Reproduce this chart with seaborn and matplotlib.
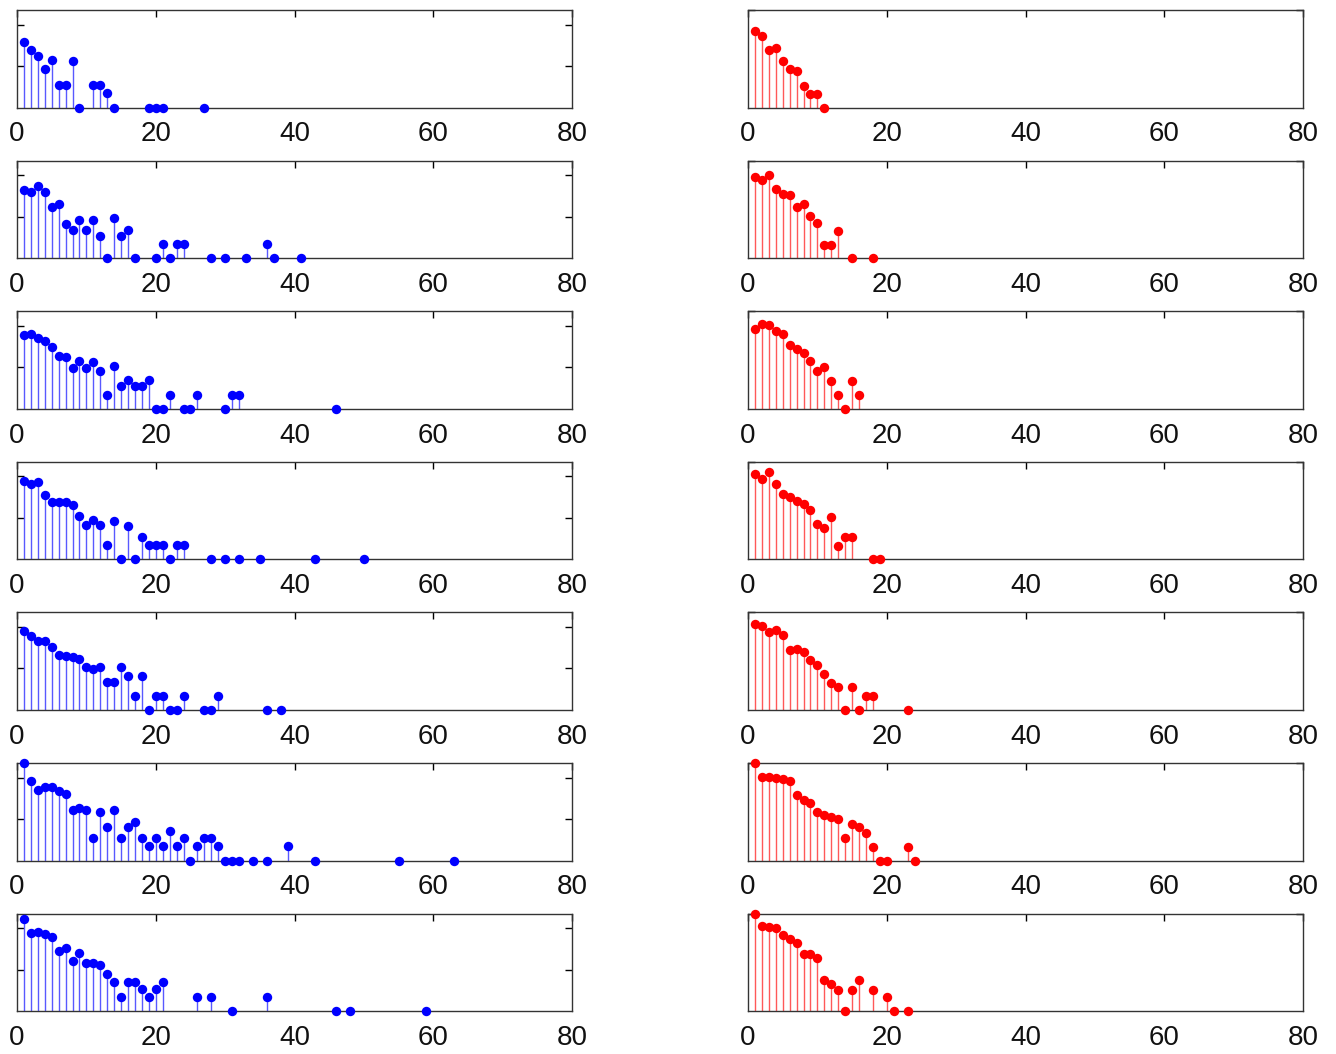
import matplotlib
matplotlib.use("Agg")
import matplotlib.pyplot as plt
import seaborn as sns
import pandas as pd

# ---------------- data (log counts) ----------------
# left column (blue)
blue1_x = [1, 2, 3, 4, 5, 6, 7, 8, 9, 11, 12, 13, 14, 19, 20, 21, 27]
blue1_y = [3.16, 2.76, 2.48, 1.84, 2.28, 1.08, 1.08, 2.24, 0, 1.08, 1.08, 0.68, 0, 0, 0, 0, 0]

blue2_x = [1, 2, 3, 4, 5, 6, 7, 8, 9, 10, 11, 12, 13, 14, 15, 16, 17, 20, 21, 22, 23, 24, 28, 30, 33, 36, 37, 41]
blue2_y = [3.28, 3.20, 3.48, 3.20, 2.44, 2.60, 1.64, 1.36, 1.84, 1.36, 1.84, 1.08, 0, 1.92, 1.08, 1.36, 0,
           0, 0.68, 0, 0.68, 0.68, 0, 0, 0, 0.68, 0, 0]

blue3_x = [1, 2, 3, 4, 5, 6, 7, 8, 9, 10, 11, 12, 13, 14, 15, 16, 17, 18, 19, 20, 21, 22, 24, 25, 26, 30, 31, 32, 46]
blue3_y = [3.56, 3.60, 3.40, 3.28, 2.96, 2.56, 2.48, 1.96, 2.32, 1.96, 2.24, 1.84, 0.68, 2.08, 1.08, 1.40, 1.08,
           1.08, 1.40, 0, 0, 0.68, 0, 0, 0.68, 0, 0.68, 0.68, 0]

blue4_x = [1, 2, 3, 4, 5, 6, 7, 8, 9, 10, 11, 12, 13, 14, 15, 16, 17, 18, 19, 20, 21, 22, 23, 24, 28, 30, 32, 35, 43, 50]
blue4_y = [3.78, 3.64, 3.72, 3.08, 2.76, 2.76, 2.76, 2.60, 2.08, 1.64, 1.88, 1.64, 0.68, 1.84, 0, 1.62, 0,
           1.08, 0.68, 0.68, 0.68, 0, 0.68, 0.68, 0, 0, 0, 0, 0, 0]

blue5_x = [1, 2, 3, 4, 5, 6, 7, 8, 9, 10, 11, 12, 13, 14, 15, 16, 17, 18, 19, 20, 21, 22, 23, 24, 27, 28, 29, 36, 38]
blue5_y = [3.80, 3.54, 3.30, 3.30, 3.02, 2.66, 2.62, 2.56, 2.46, 2.06, 1.96, 2.08, 1.36, 1.36, 2.06, 1.62, 0.68,
           1.62, 0, 0.68, 0.68, 0, 0, 0.68, 0, 0, 0.68, 0, 0]

blue6_x = [1, 2, 3, 4, 5, 6, 7, 8, 9, 10, 11, 12, 13, 14, 15, 16, 17, 18, 19, 20, 21, 22, 23, 24, 25, 26, 27, 28,
           29, 30, 31, 32, 34, 36, 39, 43, 55, 63]
blue6_y = [4.70, 3.82, 3.38, 3.52, 3.56, 3.36, 3.20, 2.44, 2.52, 2.44, 1.10, 2.32, 1.62, 2.44, 1.10, 1.62, 1.88,
           1.10, 0.70, 1.10, 0.70, 1.42, 0.70, 1.10, 0, 0.70, 1.10, 1.10, 0.70, 0, 0, 0, 0, 0, 0.70, 0, 0, 0]

blue7_x = [1, 2, 3, 4, 5, 6, 7, 8, 9, 10, 11, 12, 13, 14, 15, 16, 17, 18, 19, 20, 21, 26, 28, 31, 36, 46, 48, 59]
blue7_y = [4.42, 3.78, 3.82, 3.74, 3.58, 2.90, 3.02, 2.40, 2.80, 2.34, 2.34, 2.20, 1.80, 1.40, 0.68, 1.42, 1.42,
           1.08, 0.68, 1.08, 1.42, 0.68, 0.68, 0, 0.68, 0, 0, 0]

# right column (red)
red1_x = [1, 2, 3, 4, 5, 6, 7, 8, 9, 10, 11]
red1_y = [3.90, 3.65, 2.95, 3.05, 2.40, 2.00, 1.85, 1.10, 0.70, 0.70, 0]

red2_x = [1, 2, 3, 4, 5, 6, 7, 8, 9, 10, 11, 12, 13, 15, 18]
red2_y = [4.17, 4.00, 4.25, 3.55, 3.30, 3.25, 2.60, 2.75, 2.15, 1.80, 0.65, 0.65, 1.40, 0, 0]

red3_x = [1, 2, 3, 4, 5, 6, 7, 8, 9, 10, 11, 12, 13, 14, 15, 16]
red3_y = [4.10, 4.35, 4.28, 4.00, 3.85, 3.28, 3.05, 2.85, 2.45, 1.95, 2.15, 1.40, 0.70, 0, 1.40, 0.70]

red4_x = [1, 2, 3, 4, 5, 6, 7, 8, 9, 10, 11, 12, 13, 14, 15, 18, 19]
red4_y = [4.37, 4.10, 4.50, 3.85, 3.35, 3.20, 3.00, 2.85, 2.55, 1.80, 1.60, 2.15, 0.70, 1.15, 1.15, 0, 0]

red5_x = [1, 2, 3, 4, 5, 6, 7, 8, 9, 10, 11, 12, 13, 14, 15, 16, 17, 18, 23]
red5_y = [4.40, 4.30, 4.00, 4.10, 3.85, 3.05, 3.10, 2.95, 2.55, 2.30, 1.85, 1.40, 1.15, 0, 1.15, 0, 0.70, 0.70, 0]

red6_x = [1, 2, 3, 4, 5, 6, 7, 8, 9, 10, 11, 12, 13, 14, 15, 16, 17, 18, 19, 20, 23, 24]
red6_y = [5.00, 4.30, 4.30, 4.25, 4.20, 4.10, 3.35, 3.10, 2.95, 2.50, 2.35, 2.25, 2.15, 1.15, 1.85, 1.70, 1.40,
          0.70, 0, 0, 0.70, 0]

red7_x = [1, 2, 3, 4, 5, 6, 7, 8, 9, 10, 11, 12, 13, 14, 15, 16, 18, 20, 21, 23]
red7_y = [5.00, 4.35, 4.30, 4.25, 3.90, 3.70, 3.50, 2.95, 2.95, 2.70, 1.60, 1.40, 1.10, 0, 1.10, 1.60, 1.10, 0.70, 0, 0]

x_ticks = [0, 20, 40, 60, 80]

blue_x = [blue1_x, blue2_x, blue3_x, blue4_x, blue5_x, blue6_x, blue7_x]
blue_y = [blue1_y, blue2_y, blue3_y, blue4_y, blue5_y, blue6_y, blue7_y]
red_x = [red1_x, red2_x, red3_x, red4_x, red5_x, red6_x, red7_x]
red_y = [red1_y, red2_y, red3_y, red4_y, red5_y, red6_y, red7_y]

# ---------------- style ----------------
sns.set_style("white")
plt.rcParams["font.family"] = ["Liberation Sans", "DejaVu Sans"]

W, H = 1336, 1054
fig = plt.figure(figsize=(W / 100, H / 100), dpi=100)


def draw(ax, xs, ys, color, stem_color, ylim, yticks):
    df = pd.DataFrame({"x": xs, "y": ys})
    ax.vlines(df["x"], 0, df["y"], colors=stem_color, linewidth=1.0, zorder=2)
    sns.scatterplot(data=df, x="x", y="y", ax=ax, color=color, s=46, linewidth=0,
                    marker="o", zorder=3, clip_on=False, legend=False)
    ax.set_xlim(0, 80)
    ax.set_ylim(*ylim)
    ax.set_xticks(x_ticks)
    ax.set_xticklabels([str(t) for t in x_ticks])
    ax.set_yticks(yticks)
    ax.set_yticklabels([])
    ax.set_xlabel("")
    ax.set_ylabel("")
    ax.tick_params(axis="both", direction="in", top=True, right=True, length=5,
                   width=1.0, color="black", labelsize=20, pad=10, labelcolor="#111111")
    ax.tick_params(axis="y", left=True, right=True)
    for sp in ax.spines.values():
        sp.set_color("#333333")
        sp.set_linewidth(1.0)
        sp.set_visible(True)
    for coll in ax.collections:
        coll.set_clip_on(False)


for i in range(7):
    top_px = 10 + i * 150.6
    h_px = 97.5
    bottom = 1 - (top_px + h_px) / H
    axL = fig.add_axes([17 / W, bottom, 555 / W, h_px / H])
    draw(axL, blue_x[i], blue_y[i], (0, 0, 1), (0.35, 0.35, 1.0), (0, 4.7), [2, 4])
    axR = fig.add_axes([748 / W, bottom, 555 / W, h_px / H])
    draw(axR, red_x[i], red_y[i], (1, 0, 0), (1.0, 0.35, 0.35), (0, 5.0), [5])

fig.savefig("out.png", dpi=100, facecolor="white")
